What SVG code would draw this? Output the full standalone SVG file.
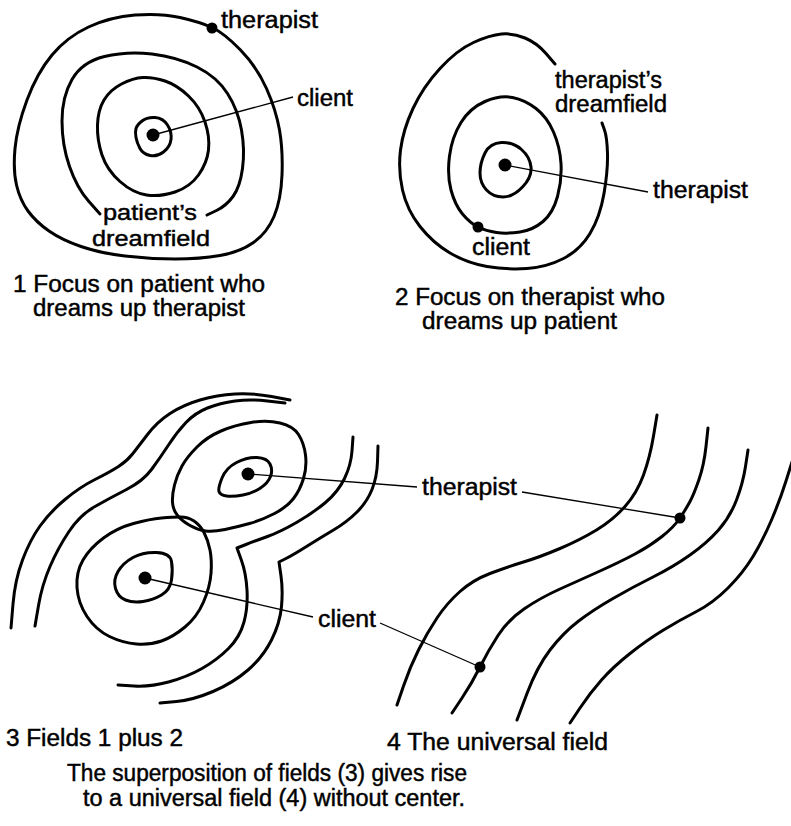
<svg xmlns="http://www.w3.org/2000/svg" width="791" height="826" viewBox="0 0 791 826">
<style>
.c{fill:none;stroke:#000;stroke-width:3;stroke-linecap:round;stroke-linejoin:round}
.l{fill:none;stroke:#000;stroke-width:1.3}
.d{fill:#000}
text{font-family:"Liberation Sans",Arial,sans-serif;font-size:23px;fill:#000;stroke:#000;stroke-width:0.45}
text.s{font-size:22px}
</style>
<rect width="791" height="826" fill="#fff"/>
<g id="panel1">
<path class="c" d="M135,15 Q160,13 180,17.5 Q200,22 212,27.5 Q224,33 240.5,50 Q257,67 266.5,88.5 Q276,110 279.5,130 Q283,150 282,175 Q281,200 274,216.5 Q267,233 253.5,242.5 Q240,252 220,255.5 Q200,259 175,259 Q150,259 125,256 Q100,253 81,246.5 Q62,240 49,231 Q36,222 28,211 Q20,200 16.5,185 Q13,170 15,148.5 Q17,127 27,100 Q37,73 52,55 Q67,37 88.5,27 Q110,17 135,15 Z"/>
<path class="c" d="M100,214 L88.5,201 Q77,188 69.5,166.5 Q62,145 62,121 Q62,97 72,79.5 Q82,62 104.5,56.5 Q127,51 152,54 Q177,57 197,67 Q217,77 227.5,93.5 Q238,110 241.5,130 Q245,150 242.5,168.5 Q240,187 233,196.5 Q226,206 216.5,210.5 L207,215"/>
<path class="c" d="M143,77.5 Q133,78 121.5,84 Q110,90 104,100 Q98,110 97.5,125 Q97,140 102,155 Q107,170 120,181.5 Q133,193 146.5,195 Q160,197 175,192 Q190,187 198.5,175 Q207,163 208.5,150 Q210,137 205,122 Q200,107 188.5,96 Q177,85 165,81 Q153,77 143,77.5 Z"/>
<path class="c" d="M136,128.5 Q137,125 142,121 Q147,117 155,117.5 Q163,118 167.5,125 Q172,132 171,139.5 Q170,147 163.5,152 Q157,157 150,155.5 Q143,154 140,148.5 Q137,143 136,137.5 Q135,132 136,128.5 Z"/>
</g>
<g id="panel2">
<path class="c" d="M555,64 L546,53.5 Q537,43 525,38 Q513,33 501.5,34 Q490,35 473.5,42.5 Q457,50 440,68.5 Q423,87 413,108.5 Q403,130 400.5,150 Q398,170 402.5,190 Q407,210 420,226.5 Q433,243 450,253 Q467,263 487,266.5 Q507,270 527,268.5 Q547,267 563.5,258.5 Q580,250 590,233.5 Q600,217 604,193.5 Q608,170 607.5,153.5 Q607,137 604.5,130 L602,123"/>
<path class="c" d="M496.5,232.5 Q486,231 478,227 Q470,223 462.5,214 Q455,205 451,190 Q447,175 449.5,156 Q452,137 461,122.5 Q470,108 485,101.5 Q500,95 512.5,97.5 Q525,100 536,108.5 Q547,117 553.5,132 Q560,147 561,163.5 Q562,180 557.5,196.5 Q553,213 543,221.5 Q533,230 520,232 Q507,234 496.5,232.5 Z"/>
<path class="c" d="M480,173 Q480,163 485,153 Q490,143 501.5,142.5 Q513,142 521.5,149.5 Q530,157 531,167 Q532,177 522.5,187 Q513,197 503,197 Q493,197 486.5,190 Q480,183 480,173 Z"/>
</g>
<g id="panel3">
<path class="c" d="M11,628 L13,604 Q15,580 22.5,560 Q30,540 40,526 Q50,512 65,499.5 Q80,487 95,479.5 Q110,472 118.5,466.5 Q127,461 132.5,454 Q138,447 147.5,434.5 Q157,422 170,413.5 Q183,405 200,400 Q217,395 235,394 Q253,393 271.5,396.5 L290,400"/>
<path class="c" d="M35,626 L38.5,605.5 Q42,585 50,566.5 Q58,548 69,531.5 Q80,515 95,506.5 Q110,498 126.5,489.5 Q143,481 151.5,469.5 Q160,458 168.5,445 Q177,432 186,422.5 Q195,413 207.5,408 Q220,403 235,401 Q250,399 267.5,401 L285,403"/>
<path class="c" d="M251,422.5 Q267,420 280,423 Q293,426 298.5,434.5 Q304,443 305.5,455 Q307,467 303.5,478.5 Q300,490 293.5,498.5 Q287,507 274.5,513.5 Q262,520 249.5,523.5 Q237,527 225,529.5 Q213,532 205.5,531 Q198,530 190,525.5 Q182,521 177.5,515.5 Q173,510 172.5,502.5 Q172,495 174.5,485 Q177,475 182,466 Q187,457 197,447 Q207,437 221,431 Q235,425 251,422.5 Z"/>
<path class="c" d="M180.5,517 Q173,517 161.5,518 Q150,519 133.5,523.5 Q117,528 103.5,538 Q90,548 83,560 Q76,572 77,587.5 Q78,603 87,616.5 Q96,630 109.5,636.5 Q123,643 136.5,644 Q150,645 161.5,641 Q173,637 185,627 Q197,617 203.5,602 Q210,587 211,573.5 Q212,560 210,550 Q208,540 204,532.5 Q200,525 194,521 Q188,517 180.5,517 Z"/>
<path class="c" d="M353,437 L352,451 Q351,465 344.5,478.5 Q338,492 325.5,502.5 Q313,513 296.5,522.5 Q280,532 267.5,536.5 Q255,541 246,544.5 L237,548 L241.5,560.5 Q246,573 247,590 Q248,607 244,622 Q240,637 228.5,648.5 Q217,660 202,668.5 Q187,677 168.5,682 Q150,687 134,686 L118,685"/>
<path class="c" d="M378,446 L377.5,461.5 Q377,477 372,489.5 Q367,502 357,512 Q347,522 333.5,530 Q320,538 306.5,546.5 Q293,555 286,558.5 L279,562 L281,576 Q283,590 281.5,606.5 Q280,623 271.5,640 Q263,657 248,670 Q233,683 213,691.5 Q193,700 176.5,701.5 L160,703"/>
<path class="c" d="M219,491.5 Q218,488 222,478 Q226,468 236.5,462.5 Q247,457 257,457.5 Q267,458 270,464 Q273,470 270.5,476.5 Q268,483 260.5,488 Q253,493 243,495 Q233,497 226.5,496 Q220,495 219,491.5 Z"/>
<path class="c" d="M115.5,588.5 Q113,580 118,571.5 Q123,563 133,557.5 Q143,552 156.5,552.5 Q170,553 171.5,561.5 Q173,570 171.5,580 Q170,590 161.5,595 Q153,600 143,601.5 Q133,603 125.5,600 Q118,597 115.5,588.5 Z"/>
</g>
<g id="panel4">
<path class="c" d="M657,415 L653.5,436 Q650,457 643.5,475 Q637,493 625,506.5 Q613,520 596.5,530 Q580,540 560,548.5 Q540,557 523.5,562 Q507,567 490,573.5 Q473,580 460,591.5 Q447,603 437,618 Q427,633 418.5,650 Q410,667 403.5,686 L397,705"/>
<path class="c" d="M708,428 L706,446.5 Q704,465 699,479.5 Q694,494 690,501.5 Q686,509 680,518 Q674,527 662,536.5 Q650,546 635,554 Q620,562 600,571 Q580,580 560,589 Q540,598 524,609 Q508,620 498,635.5 Q488,651 480,667 Q472,683 462,698 L452,713"/>
<path class="c" d="M748,450 L745.5,466.5 Q743,483 736.5,500 Q730,517 718.5,530 Q707,543 690,555 Q673,567 653,577 Q633,587 613,598.5 Q593,610 578,621.5 Q563,633 550,650 Q537,667 527,693.5 L517,720"/>
<path class="c" d="M792,462 L786,481 Q780,500 771.5,520 Q763,540 753,556.5 Q743,573 728,588 Q713,603 696.5,611.5 Q680,620 663.5,630 Q647,640 630,653.5 Q613,667 601.5,680 Q590,693 580,708 L570,723"/>
</g>
<g id="connectors">
<line class="l" x1="153" y1="135" x2="293" y2="97"/>
<line class="l" x1="505" y1="165" x2="648" y2="192"/>
<line class="l" x1="248" y1="474" x2="417" y2="487"/>
<line class="l" x1="522" y1="492" x2="680" y2="518"/>
<line class="l" x1="145" y1="578" x2="313" y2="617"/>
<line class="l" x1="380" y1="623" x2="480" y2="667"/>
</g>
<g id="dots">
<circle class="d" cx="212" cy="28" r="5.5"/>
<circle class="d" cx="153" cy="135" r="6.5"/>
<circle class="d" cx="505" cy="165" r="6.5"/>
<circle class="d" cx="478" cy="227" r="5.5"/>
<circle class="d" cx="248" cy="474" r="6.5"/>
<circle class="d" cx="145" cy="578" r="6.5"/>
<circle class="d" cx="680" cy="518" r="5.5"/>
<circle class="d" cx="480" cy="667" r="5.5"/>
</g>
<g id="labels">
<text x="221" y="28" textLength="97" lengthAdjust="spacingAndGlyphs">therapist</text>
<text x="297" y="106" textLength="56" lengthAdjust="spacingAndGlyphs">client</text>
<text class="s" x="103" y="220" textLength="94" lengthAdjust="spacingAndGlyphs">patient’s</text>
<text class="s" x="92" y="246" textLength="118" lengthAdjust="spacingAndGlyphs">dreamfield</text>
<text x="13" y="292" textLength="252" lengthAdjust="spacingAndGlyphs">1 Focus on patient who</text>
<text x="33" y="316" textLength="212" lengthAdjust="spacingAndGlyphs">dreams up therapist</text>
<text x="555" y="88" textLength="107" lengthAdjust="spacingAndGlyphs">therapist’s</text>
<text x="555" y="112" textLength="112" lengthAdjust="spacingAndGlyphs">dreamfield</text>
<text x="653" y="198" textLength="95" lengthAdjust="spacingAndGlyphs">therapist</text>
<text x="472" y="255" textLength="58" lengthAdjust="spacingAndGlyphs">client</text>
<text x="395" y="305" textLength="270" lengthAdjust="spacingAndGlyphs">2 Focus on therapist who</text>
<text x="422" y="329" textLength="195" lengthAdjust="spacingAndGlyphs">dreams up patient</text>
<text x="422" y="495" textLength="95" lengthAdjust="spacingAndGlyphs">therapist</text>
<text x="318" y="627" textLength="58" lengthAdjust="spacingAndGlyphs">client</text>
<text x="6" y="746" textLength="177" lengthAdjust="spacingAndGlyphs">3 Fields 1 plus 2</text>
<text x="387" y="750" textLength="221" lengthAdjust="spacingAndGlyphs">4 The universal field</text>
<text x="67" y="781" textLength="400" lengthAdjust="spacingAndGlyphs">The superposition of fields (3) gives rise</text>
<text x="83" y="806" textLength="382" lengthAdjust="spacingAndGlyphs">to a universal field (4) without center.</text>
</g>
</svg>
